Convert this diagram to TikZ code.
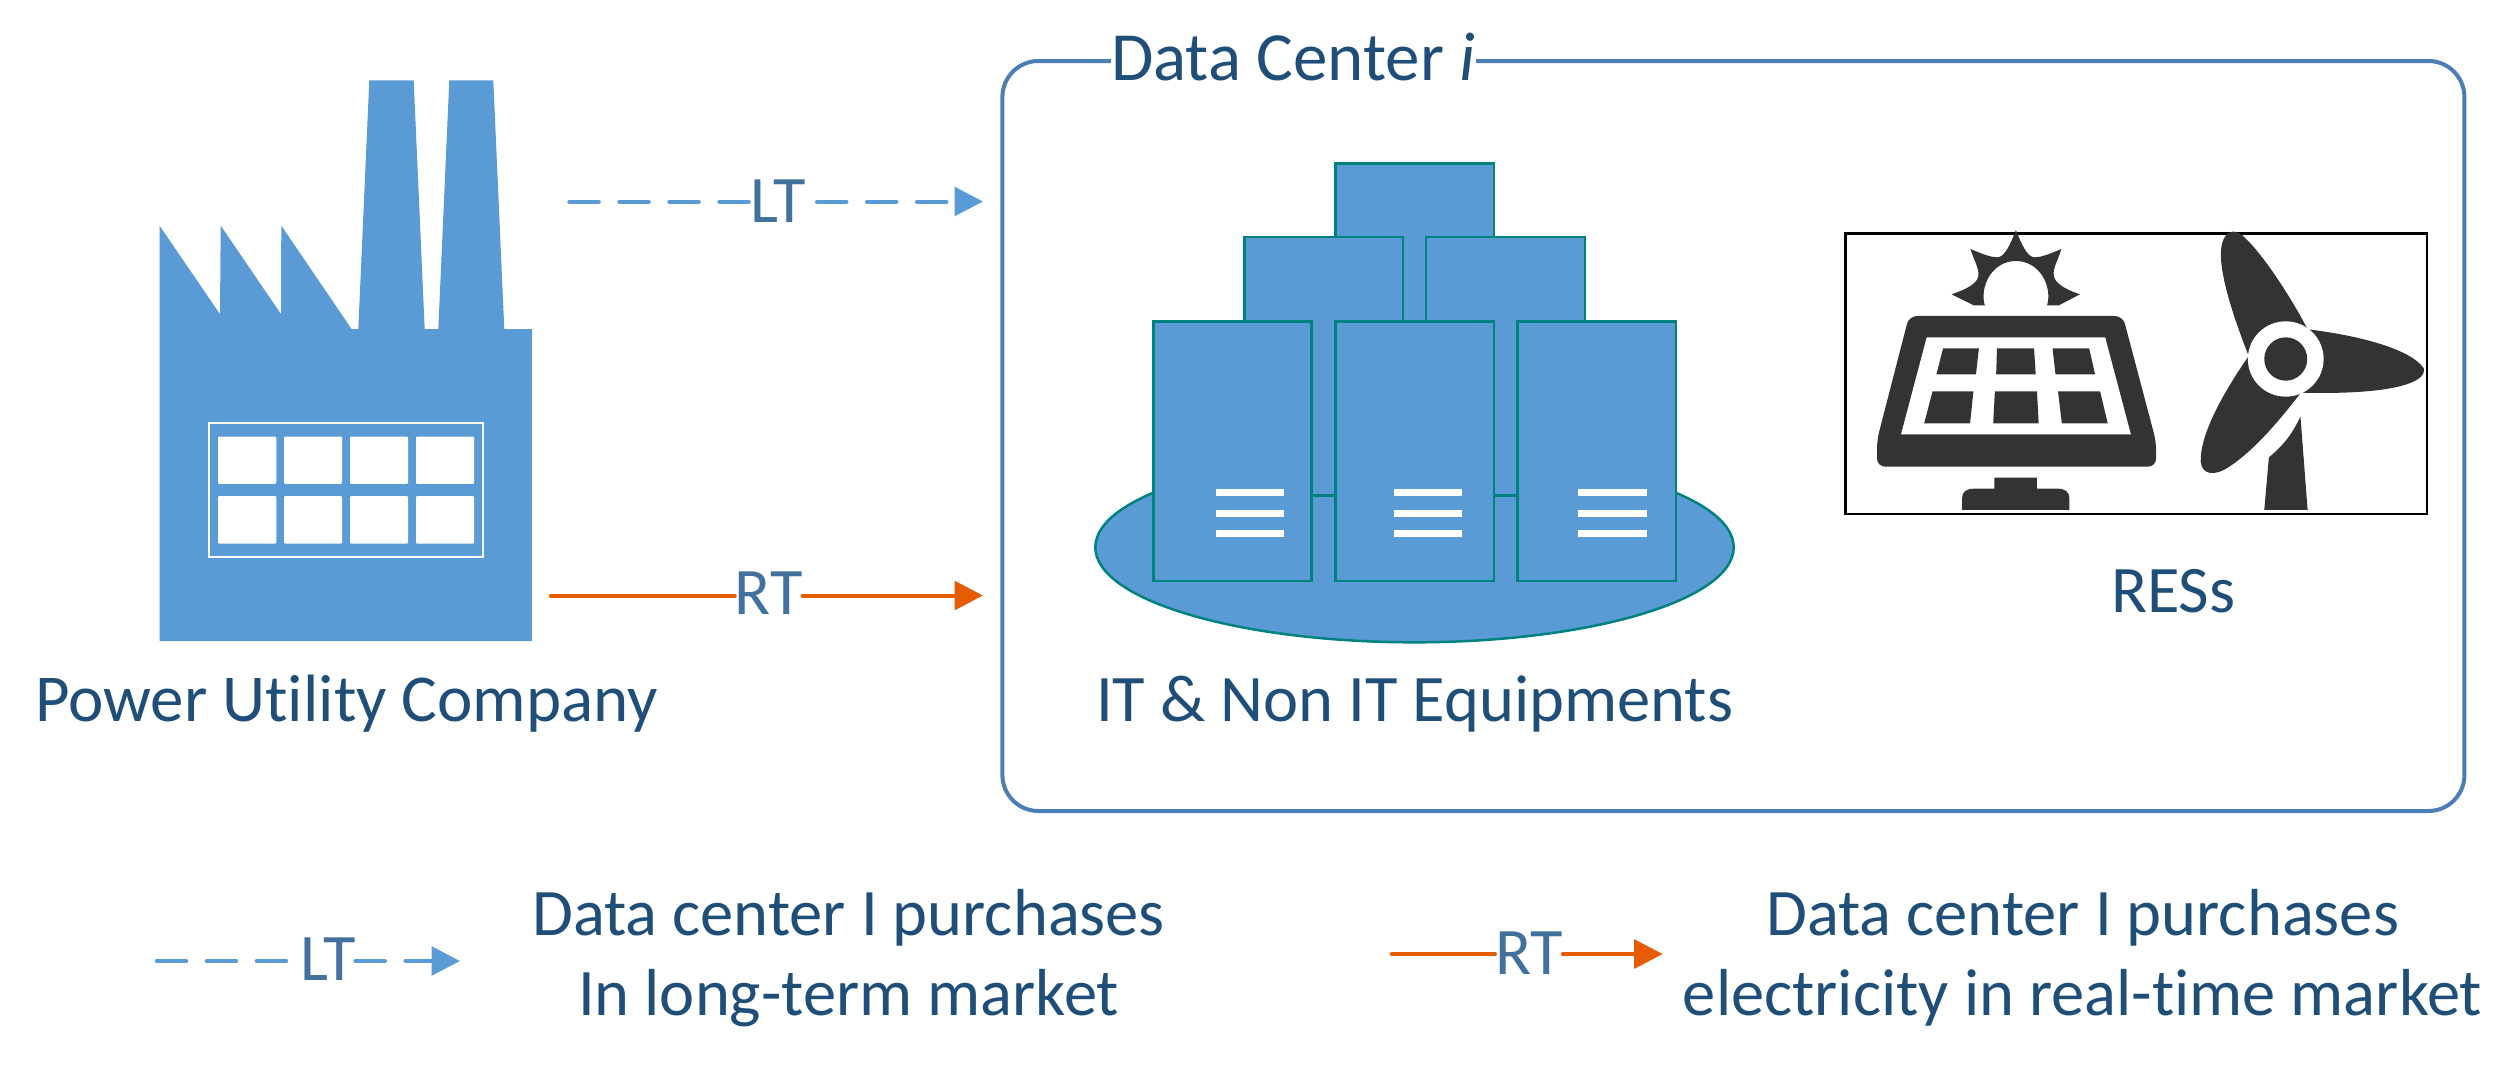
\documentclass[tikz,border=0pt]{standalone}
\usepackage{fontspec}
\setmainfont[Ligatures=NoCommon]{Carlito}
\usetikzlibrary{arrows.meta}
\definecolor{blu}{HTML}{5B9BD5}
\definecolor{teal2}{HTML}{00827F}
\definecolor{txt}{HTML}{1F4E79}
\definecolor{lbl}{HTML}{41719C}
\definecolor{frame}{HTML}{4A7EB4}
\definecolor{org}{HTML}{E65C00}
\definecolor{ico}{HTML}{333333}
\tikzset{
  txtnode/.style={inner sep=0pt,outer sep=0pt,text=txt,font=\fontsize{66.5}{80}\selectfont,anchor=base west},
  lblnode/.style={inner sep=0pt,outer sep=0pt,text=lbl,font=\fontsize{66.5}{80}\selectfont,anchor=base west},
  legendtext/.style={inner sep=0pt,outer sep=0pt,text=txt,font=\fontsize{66.5}{80}\selectfont,align=center},
  ltline/.style={draw=blu,line width=4pt,line cap=round,dash pattern=on 29.5pt off 20.5pt},
  rtline/.style={draw=org,line width=4pt,line cap=round},
  lthead/.style={-{Triangle[length=28.5pt,width=28.6pt]}},
  server/.style={fill=blu,draw=teal2,line width=2.5pt},
  bar/.style={fill=white,draw=none},
  win/.style={fill=white,draw=none,rounded corners=1pt},
  icon/.style={fill=ico,draw=none},
}
\begin{document}
\begin{tikzpicture}[x=1pt,y=-1pt]
\useasboundingbox (0,0) rectangle (2519,1066);
\fill[white] (0,0) rectangle (2519,1066);

% Data center frame
\node[draw=frame,line width=4pt,rounded corners=36pt,minimum width=1462pt,minimum height=750pt,inner sep=0pt] (dc) at (1733.4,436) {};
\node[inner sep=0pt,outer sep=0pt,fill=white,text=txt,font=\fontsize{69}{80}\selectfont,anchor=base west] (dctitle) at (1111,80) {Data Center \textit{i}};

% Factory
\fill[blu] (159.5,641.2) -- (159.5,225.6) -- (220,314.1) -- (220.7,225.6) -- (281,314.1) -- (281.3,225.6)
  -- (351.7,329.2) -- (358.3,329.2) -- (369.3,80.4) -- (413.7,80.4) -- (424.7,329.2) -- (438.3,329.2)
  -- (449.3,80.4) -- (493.3,80.4) -- (504.3,329.2) -- (532,329.2) -- (532,641.2) -- cycle;
\draw[white,line width=2pt] (208.7,422.5) rectangle (483.3,556.9);
\foreach \xa/\xb in {218/276.3,284/342,350/408,416/474}{
  \fill[win] (\xa,436.7) rectangle (\xb,483.8);
  \fill[win] (\xa,496) rectangle (\xb,543.5);
}
\node[txtnode,font=\fontsize{67}{80}\selectfont] (puc) at (35,721) {Power Utility Company};

% LT and RT arrows
\coordinate (ltstart) at (569.3,201.5);
\coordinate (ltend) at (983,201.5);
\node[lblnode] (lt) at (750.5,222) {LT};
\draw[ltline] (ltstart) -- (ltstart -| lt.west);
\draw[ltline,lthead] (ltend -| lt.east) ++(11,0) -- (ltend);
\coordinate (rtstart) at (550.8,595.5);
\coordinate (rtend) at (983,595.5);
\node[lblnode] (rt) at (734.7,614) {RT};
\draw[rtline] (rtstart) -- (rtstart -| rt.west);
\draw[rtline,lthead] (rtend -| rt.east) -- (rtend);

% Servers
\fill[server] (1414.5,547.3) ellipse [x radius=319.2,y radius=95];
\draw[server] (1335.4,163.7) rectangle (1493.9,500);
\draw[server] (1244.4,237) rectangle (1402.9,495.7);
\draw[server] (1426,237) rectangle (1585,495.7);
\draw[server] (1153.3,321.7) rectangle (1311.3,581);
\draw[server] (1335.4,321.7) rectangle (1493.9,581);
\draw[server] (1517.6,321.7) rectangle (1676,581);
\foreach \xa/\xb in {1215.8/1284.1,1394/1462,1578.3/1646.6}{
  \fill[bar] (\xa,489.3) rectangle (\xb,496.3);
  \fill[bar] (\xa,510) rectangle (\xb,516.7);
  \fill[bar] (\xa,530.3) rectangle (\xb,537);
}
\node[txtnode] (it) at (1096,721) {IT \& Non IT Equipments};

% RES picture
\draw[black,line width=2.5pt] (1845.5,233.3) rectangle (2427,514);
\begin{scope}[shift={(1800,200)},xscale=0.4209,yscale=0.3333]
  \fill[icon] (513,90) .. controls (525,130) and (540,172) .. (557,172) .. controls (575,172) and (600,158) .. (621,147)
    .. controls (612,185) and (595,215) .. (606,238) .. controls (615,258) and (640,272) .. (665,283) -- (615,316) -- (587,316)
    .. controls (600,260) and (570,183) .. (513,183) .. controls (456,183) and (426,260) .. (439,316) -- (413,316) -- (360,283)
    .. controls (385,272) and (412,258) .. (421,238) .. controls (431,215) and (414,185) .. (405,147)
    .. controls (426,158) and (451,172) .. (469,172) .. controls (486,172) and (501,130) .. (513,90) -- cycle;
  \fill[icon,rounded corners=8pt] (183,720) -- (259,348) -- (767,348) -- (846,725) -- (846,800) -- (183,800) -- cycle;
  \fill[white] (301,412) -- (725,412) -- (786,703) -- (240,703) -- cycle;
  \fill[icon] (340,445) -- (425,445) -- (418,523) -- (324,523) -- cycle;
  \fill[icon] (468,445) -- (556,445) -- (560,523) -- (466,523) -- cycle;
  \fill[icon] (600,445) -- (687,445) -- (701,523) -- (607,523) -- cycle;
  \fill[icon] (315,574) -- (412,574) -- (404,670) -- (295,670) -- cycle;
  \fill[icon] (463,574) -- (563,574) -- (567,670) -- (459,670) -- cycle;
  \fill[icon] (613,574) -- (713,574) -- (731,670) -- (622,670) -- cycle;
  \fill[icon] (462,833) -- (563,833) -- (563,866) -- (610,866) .. controls (630,866) and (640,875) .. (640,895) -- (640,930) -- (385,930) -- (385,895) .. controls (385,875) and (395,866) .. (415,866) -- (462,866) -- cycle;
  \fill[icon] (1066,468) .. controls (1020,320) and (990,190) .. (1003,130) .. controls (1010,95) and (1030,85) .. (1050,105) .. controls (1100,160) and (1170,300) .. (1206,388) -- cycle;
  \fill[icon] (1206,388) .. controls (1320,405) and (1450,445) .. (1482,505) .. controls (1490,550) and (1400,585) .. (1190,578) -- cycle;
  \fill[icon] (1066,468) .. controls (1010,570) and (950,700) .. (952,785) .. controls (955,825) and (985,830) .. (1020,800) .. controls (1080,750) and (1140,660) .. (1190,578) -- cycle;
  \fill[icon] (1189,650) -- (1206,930) -- (1103,930) -- (1114,772) .. controls (1150,735) and (1170,700) .. (1189,650) -- cycle;
  \fill[white] (1154,477) ellipse [x radius=90,y radius=113];
  \fill[icon] (1154,477) ellipse [x radius=51,y radius=65];
\end{scope}
\node[txtnode] (res) at (2111,612.3) {RESs};

% Legend
\coordinate (lgltstart) at (156.7,961);
\coordinate (lgltend) at (460,961);
\node[lblnode] (lglt) at (300,980.7) {LT};
\draw[ltline] (lgltstart) -- (lgltstart -| lglt.west);
\draw[ltline,lthead] (lgltend -| lglt.east) -- (lgltend);
\node[legendtext] (lgl) at (848.5,958) {Data center I purchases\\In long-term market};
\coordinate (lgrtstart) at (1391.7,954);
\coordinate (lgrtend) at (1662.7,954);
\node[lblnode] (lgrt) at (1495,974) {RT};
\draw[rtline] (lgrtstart) -- (lgrtstart -| lgrt.west);
\draw[rtline,lthead] (lgrtend -| lgrt.east) -- (lgrtend);
\node[legendtext] (lgr) at (2082.5,958) {Data center I purchases\\electricity in real-time market};
\end{tikzpicture}
\end{document}
